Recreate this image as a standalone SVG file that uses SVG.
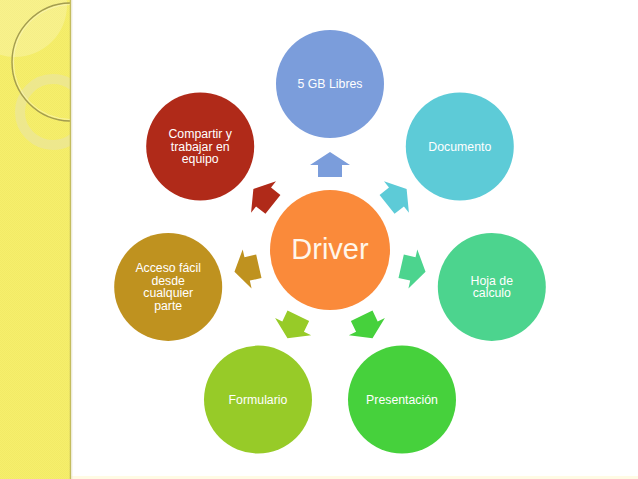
<svg xmlns="http://www.w3.org/2000/svg" width="638" height="479" viewBox="0 0 638 479">
<defs>
<style>
.lbl{font-family:"Liberation Sans",Arial,sans-serif;font-size:12.3px;fill:#ffffff;text-anchor:middle}
.big{font-family:"Liberation Sans",Arial,sans-serif;font-size:29px;fill:#fff6ea;text-anchor:middle}
</style>
<pattern id="chk" width="2" height="2" patternUnits="userSpaceOnUse">
<rect width="2" height="2" fill="#f6ef6c"/>
<rect width="1" height="1" fill="#f2ea66"/>
<rect x="1" y="1" width="1" height="1" fill="#f2ea66"/>
</pattern>
<clipPath id="band"><rect x="0" y="0" width="70" height="479"/></clipPath>
<polygon id="arr" points="0,-98 20,-85 12,-85 12,-73 -12,-73 -12,-85 -20,-85"/>
</defs>
<rect width="638" height="479" fill="#ffffff"/>
<rect x="0" y="476" width="638" height="3" fill="#fffbe4"/>
<g id="band-deco" clip-path="url(#band)">
<rect x="0" y="0" width="70" height="479" fill="url(#chk)"/>
<circle cx="15" cy="5" r="52" fill="#ffffff" opacity="0.22"/>
<circle cx="53" cy="112" r="33" fill="none" stroke="#ebe59a" stroke-width="10" opacity="0.75"/>
<circle cx="71" cy="62" r="59" fill="none" stroke="#a39c50" stroke-width="1.4"/>
<circle cx="71" cy="62" r="57.6" fill="none" stroke="#faf6c4" stroke-width="0.9" opacity="0.7"/>
</g>
<line x1="70.5" y1="0" x2="70.5" y2="479" stroke="#c4bc5e" stroke-width="1.5"/>
<line x1="72" y1="0" x2="72" y2="479" stroke="#ecebd8" stroke-width="1.2" opacity="0.6"/>
<g id="connectors">
<use href="#arr" fill="#7b9ddb" transform="translate(330 250) rotate(0)"/>
<use href="#arr" fill="#5dcbd7" transform="translate(330 250) rotate(51.43)"/>
<use href="#arr" fill="#4cd48e" transform="translate(330 250) rotate(102.86)"/>
<use href="#arr" fill="#46d13c" transform="translate(330 250) rotate(154.29)"/>
<use href="#arr" fill="#97cb28" transform="translate(330 250) rotate(205.71)"/>
<use href="#arr" fill="#bf921f" transform="translate(330 250) rotate(257.14)"/>
<use href="#arr" fill="#b02a19" transform="translate(330 250) rotate(308.57)"/>
</g>
<g id="driver">
<circle cx="330" cy="250" r="60" fill="#fa8a3a"/>
<text class="big" x="330" y="259">Driver</text>
</g>
<g id="n-5gb">
<circle cx="330" cy="84" r="54" fill="#7b9ddb"/>
<text class="lbl" x="330" y="88">5 GB Libres</text>
</g>
<g id="n-documento">
<circle cx="459.8" cy="146.5" r="54" fill="#5dcbd7"/>
<text class="lbl" x="459.8" y="150.5">Documento</text>
</g>
<g id="n-hoja">
<circle cx="491.8" cy="286.9" r="54" fill="#4cd48e"/>
<text class="lbl" x="491.8" y="284.6">Hoja de</text>
<text class="lbl" x="491.8" y="297.2">calculo</text>
</g>
<g id="n-presentacion">
<circle cx="402" cy="399.6" r="54" fill="#46d13c"/>
<text class="lbl" x="402" y="403.6">Presentación</text>
</g>
<g id="n-formulario">
<circle cx="258" cy="399.6" r="54" fill="#97cb28"/>
<text class="lbl" x="258" y="403.6">Formulario</text>
</g>
<g id="n-acceso">
<circle cx="168.2" cy="286.9" r="54" fill="#bf921f"/>
<text class="lbl" x="168.2" y="272">Acceso fácil</text>
<text class="lbl" x="168.2" y="284.5">desde</text>
<text class="lbl" x="168.2" y="297">cualquier</text>
<text class="lbl" x="168.2" y="309.5">parte</text>
</g>
<g id="n-compartir">
<circle cx="200.2" cy="146.5" r="54" fill="#b02a19"/>
<text class="lbl" x="200.2" y="137.8">Compartir y</text>
<text class="lbl" x="200.2" y="150.5">trabajar en</text>
<text class="lbl" x="200.2" y="163.2">equipo</text>
</g>
</svg>
